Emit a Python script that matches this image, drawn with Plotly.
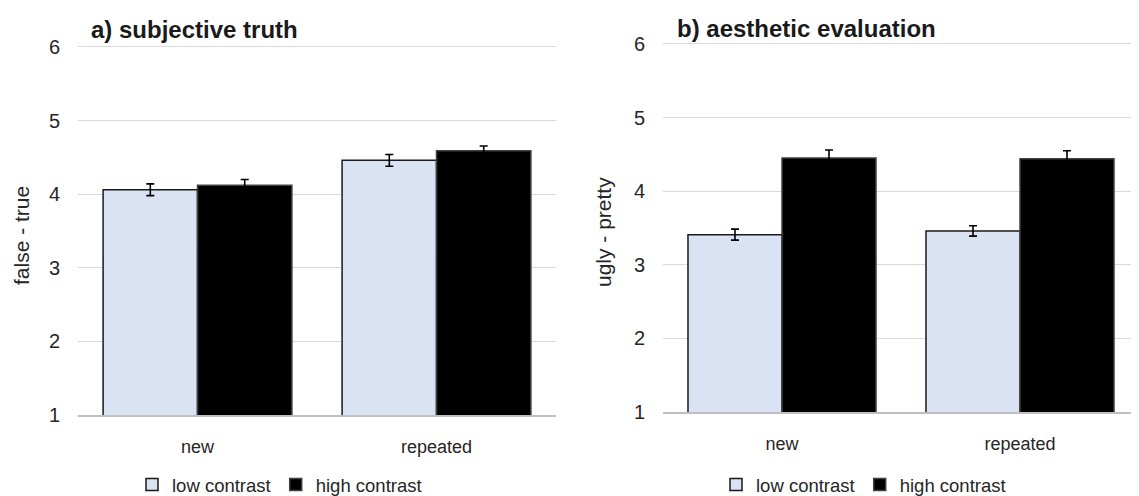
import plotly.graph_objects as go

categories = ["new", "repeated"]
series_names = ["low contrast", "high contrast"]

truth_low = [4.06, 4.46]
truth_low_err = [0.08, 0.08]
truth_high = [4.12, 4.59]
truth_high_err = [0.08, 0.065]

aesth_low = [3.41, 3.46]
aesth_low_err = [0.075, 0.07]
aesth_high = [4.45, 4.44]
aesth_high_err = [0.11, 0.11]

y_ticks = [1, 2, 3, 4, 5, 6]

OFF = 8  # page body margin
W, H = 1139 - OFF, 496 - OFF
FONT = "Liberation Sans, Arial, sans-serif"
LIGHT = "#dae3f3"
YTOP = 6.02

fig = go.Figure()

def add_pair(low, low_err, high, high_err, xa, ya, leg):
    fig.add_trace(go.Bar(
        x=categories, y=low, name=series_names[0], xaxis=xa, yaxis=ya, legend=leg,
        marker=dict(color=LIGHT, line=dict(color="#1a1a1a", width=1.5)),
        error_y=dict(type="data", array=low_err, color="black", thickness=1.6, width=4),
    ))
    fig.add_trace(go.Bar(
        x=categories, y=high, name=series_names[1], xaxis=xa, yaxis=ya, legend=leg,
        marker=dict(color="black", line=dict(color="#404040", width=1.5)),
        error_y=dict(type="data", array=high_err, color="black", thickness=1.6, width=4),
    ))

add_pair(truth_low, truth_low_err, truth_high, truth_high_err, "x", "y", "legend")
add_pair(aesth_low, aesth_low_err, aesth_high, aesth_high_err, "x2", "y2", "legend2")

def px_x(p):
    return min(1.0, (p - OFF) / W)

def px_y(p):
    return 1 - (p - OFF) / H

UNIT = 73.6
xcommon = dict(type="category", showgrid=False, zeroline=False, showline=True,
               linecolor="#bfbfbf", linewidth=1.5, ticks="", ticklabelstandoff=15,
               automargin=False,
               tickfont=dict(family=FONT, size=18, color="#262626"), fixedrange=True)
ycommon = dict(range=[1, YTOP], tickvals=y_ticks, showgrid=True, gridcolor="#d9d9d9",
               gridwidth=1.2, zeroline=False, showline=False, ticks="",
               ticklabelstandoff=17, automargin=False,
               tickfont=dict(family=FONT, size=20, color="#262626"), fixedrange=True)

legcommon = dict(orientation="h", xanchor="left", yanchor="middle",
                 font=dict(family=FONT, size=18.5, color="#262626"), itemwidth=30,
                 tracegroupgap=0, traceorder="normal", bgcolor="rgba(0,0,0,0)")

fig.update_layout(
    width=W, height=H,
    margin=dict(l=0, r=0, t=0, b=0, autoexpand=False),
    paper_bgcolor="white", plot_bgcolor="white",
    barmode="group", bargap=0.21, bargroupgap=0,
    font=dict(family=FONT, color="#262626"),
    xaxis=dict(domain=[px_x(78), px_x(556)], range=[-0.5, 1.5], anchor="y", **xcommon),
    yaxis=dict(domain=[px_y(415), px_y(47 - (YTOP - 6) * UNIT)], anchor="x", **ycommon),
    xaxis2=dict(domain=[px_x(663), 1.0], range=[-0.5, 1.5], anchor="y2", **xcommon),
    yaxis2=dict(domain=[px_y(412), px_y(44 - (YTOP - 6) * UNIT)], anchor="x2", **ycommon),
    legend=dict(x=px_x(132), y=px_y(485), **legcommon),
    legend2=dict(x=px_x(716), y=px_y(485), **legcommon),
    showlegend=True,
)

fig.add_annotation(text="<b>a) subjective truth</b>", xref="paper", yref="paper",
                   x=px_x(89), y=px_y(29), xanchor="left", yanchor="middle", showarrow=False,
                   font=dict(family=FONT, size=24, color="#1a1a1a"))
fig.add_annotation(text="<b>b) aesthetic evaluation</b>", xref="paper", yref="paper",
                   x=px_x(675), y=px_y(28), xanchor="left", yanchor="middle", showarrow=False,
                   font=dict(family=FONT, size=24, color="#1a1a1a"))
fig.add_annotation(text="false - true", xref="paper", yref="paper",
                   x=px_x(22), y=px_y(236), xanchor="center", yanchor="middle", showarrow=False,
                   textangle=-90, font=dict(family=FONT, size=21, color="#262626"))
fig.add_annotation(text="ugly - pretty", xref="paper", yref="paper",
                   x=px_x(603), y=px_y(232), xanchor="center", yanchor="middle", showarrow=False,
                   textangle=-90, font=dict(family=FONT, size=21, color="#262626"))

fig.write_html("out.html")
